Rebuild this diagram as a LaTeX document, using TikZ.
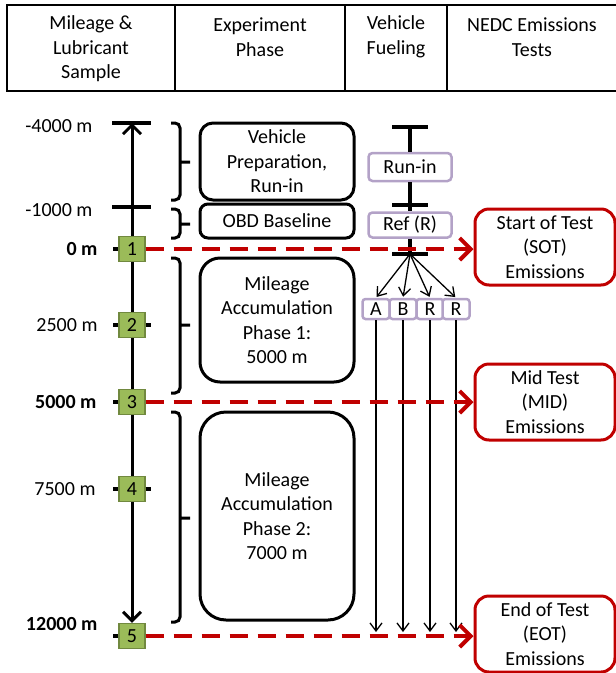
\documentclass[tikz,border=0pt]{standalone}
\usepackage{fontspec}
\setmainfont{Carlito}
\definecolor{samplegreen}{HTML}{9BBB59}
\definecolor{sampleedge}{HTML}{71893F}
\definecolor{fuellav}{HTML}{B3A2C7}
\definecolor{testred}{HTML}{C00000}
\usetikzlibrary{arrows.meta, calc, positioning}

\begin{document}
\begin{tikzpicture}[x=1pt, y=-1pt, font=\fontsize{20}{24.5}\selectfont,
	phase/.style={draw, line width=3pt, minimum width=154pt, align=center, inner sep=0pt},
	sample/.style={draw=sampleedge, fill=samplegreen, line width=1.2pt, minimum width=26pt, minimum height=25pt, inner sep=0pt},
	fuel/.style={draw=fuellav, fill=white, line width=2.5pt, rounded corners=4pt, inner sep=0pt},
	emis/.style={draw=testred, line width=3pt, rounded corners=14pt, minimum width=140pt, minimum height=76pt, align=center, inner sep=0pt},
	tickmark/.style={line width=3.5pt},
	brc/.style={line width=3pt, rounded corners=5pt},
	mileaxis/.style={line width=3pt, -{Straight Barb[length=9pt,width=18pt]}},
	reddash/.style={testred, line width=4pt, dash pattern=on 18pt off 10pt, -{Straight Barb[length=11pt,width=22pt]}},
	fan/.style={line width=1.3pt, -{Straight Barb[length=8pt,width=12pt]}}]
	\useasboundingbox (0,0) rectangle (616,673);
	% header row
	\draw[line width=1.5pt] (616,5) -- (7,5) -- (7,91) -- (616,91);
	\foreach \x in {175,345,447}
		\draw[line width=1.5pt] (\x,5) -- (\x,91);
	\node[align=center] (hd1) at (91,49) {Mileage \&\\Lubricant\\Sample};
	\node[align=center] (hd2) at (260,37) {Experiment\\Phase};
	\node[align=center] (hd3) at (396,37) {Vehicle\\Fueling};
	\node[align=center] (hd4) at (532,37) {NEDC Emissions\\Tests};
	% mileage axis
	\coordinate (top) at (132,123);
	\coordinate (m1000) at (132,207);
	\node[sample] (s1) at (132,249) {1};
	\node[sample] (s2) at (132,325) {2};
	\node[sample] (s3) at (132,402) {3};
	\node[sample] (s4) at (132,489) {4};
	\node[sample] (s5) at (132,636) {5};
	\draw[mileaxis] (s1) -- (top);
	\draw[line width=3pt] (s1) -- (s2) (s2) -- (s3) (s3) -- (s4);
	\draw[mileaxis] (s4) -- (s5);
	\draw[tickmark] (top) ++(-20,0) -- ++(39,0);
	\draw[tickmark] (m1000) ++(-20,0) -- ++(39,0);
	\foreach \s in {s1,s2,s3,s4,s5}
		\draw[tickmark] (\s.west) -- ++(-5,0) (\s.east) -- ++(5,0);
	\node[anchor=east] (l1) at (96,126) {-4000 m};
	\node[anchor=east] (l2) at (96,210) {-1000 m};
	\node[anchor=east, font=\fontsize{20}{24.5}\selectfont\bfseries] (l3) at (101,249) {0 m};
	\node[anchor=east] (l4) at (101,325) {2500 m};
	\node[anchor=east, font=\fontsize{20}{24.5}\selectfont\bfseries] (l5) at (100,402) {5000 m};
	\node[anchor=east] (l6) at (99,489) {7500 m};
	\node[anchor=east, font=\fontsize{20}{24.5}\selectfont\bfseries] (l7) at (101,624) {12000 m};
	% braces
	\draw[brc] (171,123) -- (180,123) -- (180,200) -- (171,200) (180,162) -- (190,162);
	\draw[brc] (171,209) -- (180,209) -- (180,238) -- (171,238) (180,224) -- (190,224);
	\draw[brc] (171,258) -- (180,258) -- (180,393) -- (171,393) (180,325) -- (190,325);
	\draw[brc] (171,412) -- (180,412) -- (180,622) -- (171,622) (180,518) -- (190,518);
	% experiment phases
	\node[phase, rounded corners=13pt, minimum height=77pt] (prep) at (277,161.5) {Vehicle\\Preparation,\\Run-in};
	\node[phase, rounded corners=8pt, minimum height=34pt] (obd) at (277,221) {OBD Baseline};
	\node[phase, rounded corners=20pt, minimum height=124pt] (ph1) at (277,320) {Mileage\\Accumulation\\Phase 1:\\5000 m};
	\node[phase, rounded corners=26pt, minimum height=208pt] (ph2) at (277,516) {Mileage\\Accumulation\\Phase 2:\\7000 m};
	% vehicle fueling
	\coordinate (f0) at (410,127);
	\node[fuel, minimum width=83pt, minimum height=28pt] (runin) at (410,167) {Run-in};
	\coordinate (f1) at (410,205);
	\node[fuel, minimum width=83pt, minimum height=25pt] (ref) at (410,225) {Ref (R)};
	\coordinate (f2) at (410,254);
	\draw[tickmark] (f0) -- (runin) (runin) -- (ref) (ref) -- (f2);
	\foreach \c in {f0,f1,f2}
		\draw[tickmark] (\c) ++(-18,0) -- ++(36,0);
	\node[fuel, minimum width=27pt, minimum height=20pt, rounded corners=3pt] (fa) at (376,309) {A};
	\node[fuel, minimum width=27pt, minimum height=20pt, rounded corners=3pt] (fb) at (403,309) {B};
	\node[fuel, minimum width=27pt, minimum height=20pt, rounded corners=3pt] (fr1) at (430,309) {R};
	\node[fuel, minimum width=27pt, minimum height=20pt, rounded corners=3pt] (fr2) at (456,309) {R};
	\coordinate (endlvl) at (0,632);
	\foreach \b in {fa,fb,fr1,fr2} {
		\draw[fan, shorten >=1pt] (f2) -- (\b.north);
		\draw[fan] (\b.south) -- (\b.south |- endlvl);
	}
	% emissions tests
	\node[emis] (sot) at (545,247) {Start of Test\\(SOT)\\Emissions};
	\node[emis] (mid) at (545,402) {Mid Test\\(MID)\\Emissions};
	\node[emis] (eot) at (545,634) {End of Test\\(EOT)\\Emissions};
	\draw[reddash] (s1.east) -- (s1.east -| sot.west);
	\draw[reddash] (s3.east) -- (s3.east -| mid.west);
	\draw[reddash] (s5.east) -- (s5.east -| eot.west);
\end{tikzpicture}
\end{document}
